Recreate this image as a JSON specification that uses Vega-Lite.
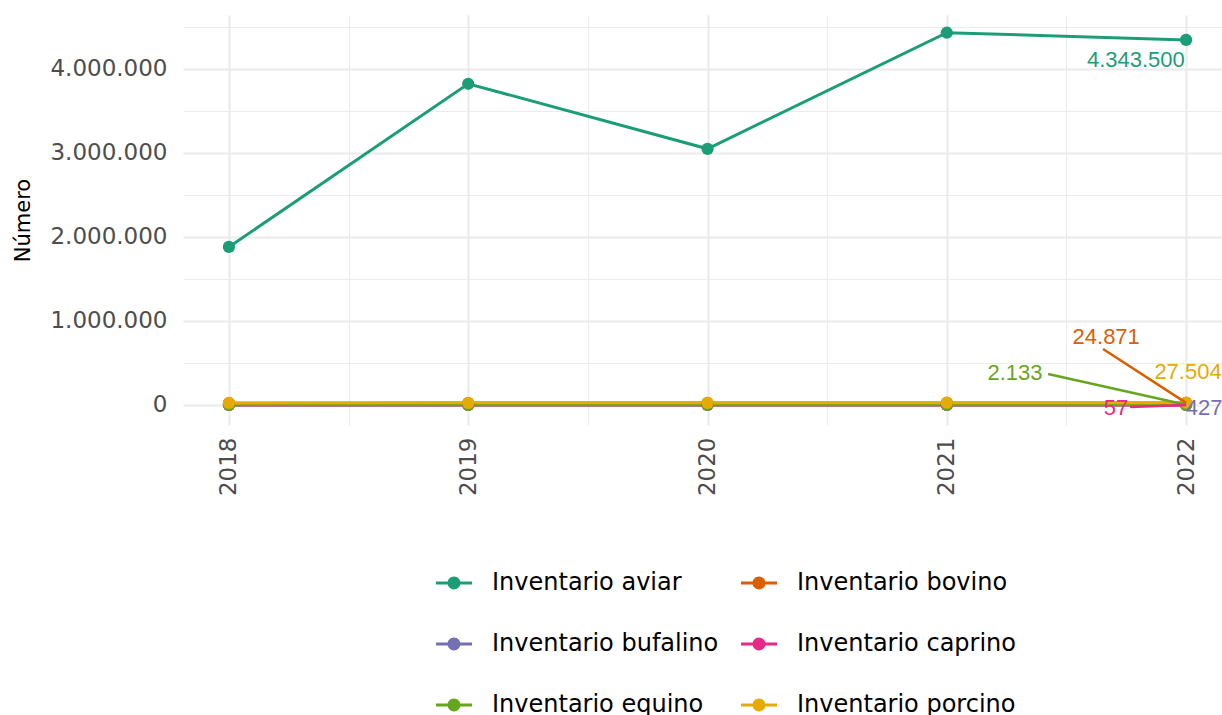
{
  "$schema": "https://vega.github.io/schema/vega-lite/v6.json",
  "width": 1039,
  "height": 410,
  "autosize": "none",
  "padding": {"left": 183, "top": 15, "right": 0, "bottom": 290},
  "background": "white",
  "title": {"text": "Fuente: UPRA", "anchor": "middle", "offset": 11, "baseline": "alphabetic", "font": "DejaVu Sans", "fontSize": 22, "fontWeight": "normal", "color": "#000000"},
  "config": {
    "locale": {"number": {"decimal": ",", "thousands": ".", "grouping": [3], "currency": ["$", ""]}},
    "view": {"stroke": null},
    "font": "DejaVu Sans"
  },
  "datasets": {
    "series": [
      {"serie": "Inventario aviar", "anio": 2018, "valor": 1881000},
      {"serie": "Inventario aviar", "anio": 2019, "valor": 3822000},
      {"serie": "Inventario aviar", "anio": 2020, "valor": 3048000},
      {"serie": "Inventario aviar", "anio": 2021, "valor": 4429000},
      {"serie": "Inventario aviar", "anio": 2022, "valor": 4343500},
      {"serie": "Inventario bovino", "anio": 2018, "valor": 22000},
      {"serie": "Inventario bovino", "anio": 2019, "valor": 23500},
      {"serie": "Inventario bovino", "anio": 2020, "valor": 24000},
      {"serie": "Inventario bovino", "anio": 2021, "valor": 24500},
      {"serie": "Inventario bovino", "anio": 2022, "valor": 24871},
      {"serie": "Inventario bufalino", "anio": 2018, "valor": 380},
      {"serie": "Inventario bufalino", "anio": 2019, "valor": 400},
      {"serie": "Inventario bufalino", "anio": 2020, "valor": 410},
      {"serie": "Inventario bufalino", "anio": 2021, "valor": 420},
      {"serie": "Inventario bufalino", "anio": 2022, "valor": 427},
      {"serie": "Inventario caprino", "anio": 2018, "valor": 60},
      {"serie": "Inventario caprino", "anio": 2019, "valor": 55},
      {"serie": "Inventario caprino", "anio": 2020, "valor": 58},
      {"serie": "Inventario caprino", "anio": 2021, "valor": 56},
      {"serie": "Inventario caprino", "anio": 2022, "valor": 57},
      {"serie": "Inventario equino", "anio": 2018, "valor": 2000},
      {"serie": "Inventario equino", "anio": 2019, "valor": 2050},
      {"serie": "Inventario equino", "anio": 2020, "valor": 2100},
      {"serie": "Inventario equino", "anio": 2021, "valor": 2120},
      {"serie": "Inventario equino", "anio": 2022, "valor": 2133},
      {"serie": "Inventario porcino", "anio": 2018, "valor": 24000},
      {"serie": "Inventario porcino", "anio": 2019, "valor": 26000},
      {"serie": "Inventario porcino", "anio": 2020, "valor": 25500},
      {"serie": "Inventario porcino", "anio": 2021, "valor": 27000},
      {"serie": "Inventario porcino", "anio": 2022, "valor": 27504}
    ],
    "etiquetas": [
      {"serie": "Inventario aviar", "valor": 4343500, "anio_etq": 2021.79, "pos_etq": 4107000},
      {"serie": "Inventario bovino", "valor": 24871, "anio_etq": 2021.666, "pos_etq": 810000},
      {"serie": "Inventario equino", "valor": 2133, "anio_etq": 2021.285, "pos_etq": 381000},
      {"serie": "Inventario porcino", "valor": 27504, "anio_etq": 2022.008, "pos_etq": 393000},
      {"serie": "Inventario caprino", "valor": 57, "anio_etq": 2021.707, "pos_etq": -36000},
      {"serie": "Inventario bufalino", "valor": 427, "anio_etq": 2022.075, "pos_etq": -36000}
    ],
    "segmentos": [
      {"serie": "Inventario bovino", "anio_ini": 2021.653, "pos_ini": 667000, "anio_fin": 2022, "pos_fin": 24871},
      {"serie": "Inventario equino", "anio_ini": 2021.423, "pos_ini": 369000, "anio_fin": 2022, "pos_fin": 2133},
      {"serie": "Inventario caprino", "anio_ini": 2021.766, "pos_ini": -24000, "anio_fin": 2022, "pos_fin": 57}
    ]
  },
  "layer": [
    {
      "data": {"name": "series"},
      "mark": {"type": "line", "strokeWidth": 3},
      "encoding": {
        "x": {
          "field": "anio", "type": "quantitative",
          "scale": {"domain": [2017.808, 2022.15], "nice": false, "zero": false},
          "axis": {
            "title": null,
            "values": [2018, 2018.5, 2019, 2019.5, 2020, 2020.5, 2021, 2021.5, 2022],
            "labelExpr": "datum.value % 1 === 0 ? format(datum.value, 'd') : ''",
            "labelAngle": 270, "labelAlign": "right", "labelBaseline": "middle",
            "labelFontSize": 23, "labelColor": "#4d4d4d", "labelFont": "DejaVu Sans", "labelPadding": 12,
            "domain": false, "ticks": false,
            "grid": true, "gridColor": "#ebebeb",
            "gridWidth": {"condition": {"test": "datum.value % 1 === 0", "value": 2.2}, "value": 1.1}
          }
        },
        "y": {
          "field": "valor", "type": "quantitative",
          "scale": {"domain": [-238000, 4640000], "nice": false, "zero": false},
          "axis": {
            "title": "Número", "titleFontSize": 21, "titleFont": "DejaVu Sans", "titleFontWeight": "normal", "titleColor": "#000000", "titlePadding": 16,
            "values": [0, 500000, 1000000, 1500000, 2000000, 2500000, 3000000, 3500000, 4000000, 4500000],
            "labelExpr": "datum.value % 1000000 === 0 ? format(datum.value, ',d') : ''",
            "labelFontSize": 23, "labelColor": "#4d4d4d", "labelFont": "DejaVu Sans", "labelPadding": 16,
            "domain": false, "ticks": false,
            "grid": true, "gridColor": "#ebebeb",
            "gridWidth": {"condition": {"test": "datum.value % 1000000 === 0", "value": 2.2}, "value": 1.1}
          }
        },
        "color": {
          "field": "serie", "type": "nominal",
          "scale": {
            "domain": ["Inventario aviar", "Inventario bovino", "Inventario bufalino", "Inventario caprino", "Inventario equino", "Inventario porcino"],
            "range": ["#1b9e77", "#d95f02", "#7570b3", "#e7298a", "#66a61e", "#e6ab02"]
          },
          "legend": {
            "title": null, "orient": "none", "legendX": 253, "legendY": 550,
            "columns": 2, "direction": "horizontal",
            "symbolType": "M-1,-0.08H1V0.08H-1Z M0.36,0A0.36,0.36 0 1 1 -0.36,0A0.36,0.36 0 1 1 0.36,0Z",
            "symbolSize": 1296, "symbolStrokeWidth": 0, "symbolOpacity": 1,
            "labelFontSize": 24, "labelFont": "DejaVu Sans", "labelColor": "#000000", "labelOffset": 20,
            "rowPadding": 31, "columnPadding": 22, "labelLimit": 400
          }
        }
      }
    },
    {
      "data": {"name": "series"},
      "mark": {"type": "point", "filled": true, "opacity": 1, "size": 150},
      "encoding": {
        "x": {"field": "anio", "type": "quantitative"},
        "y": {"field": "valor", "type": "quantitative"},
        "color": {"field": "serie", "type": "nominal"}
      }
    },
    {
      "data": {"name": "segmentos"},
      "mark": {"type": "rule", "strokeWidth": 2.5},
      "encoding": {
        "x": {"field": "anio_ini", "type": "quantitative"},
        "y": {"field": "pos_ini", "type": "quantitative"},
        "x2": {"field": "anio_fin"},
        "y2": {"field": "pos_fin"},
        "color": {"field": "serie", "type": "nominal"}
      }
    },
    {
      "data": {"name": "etiquetas"},
      "mark": {"type": "text", "font": "Liberation Sans", "fontSize": 22, "align": "center", "baseline": "middle"},
      "encoding": {
        "x": {"field": "anio_etq", "type": "quantitative"},
        "y": {"field": "pos_etq", "type": "quantitative"},
        "text": {"field": "valor", "type": "quantitative", "format": ",d"},
        "color": {"field": "serie", "type": "nominal"}
      }
    }
  ]
}
